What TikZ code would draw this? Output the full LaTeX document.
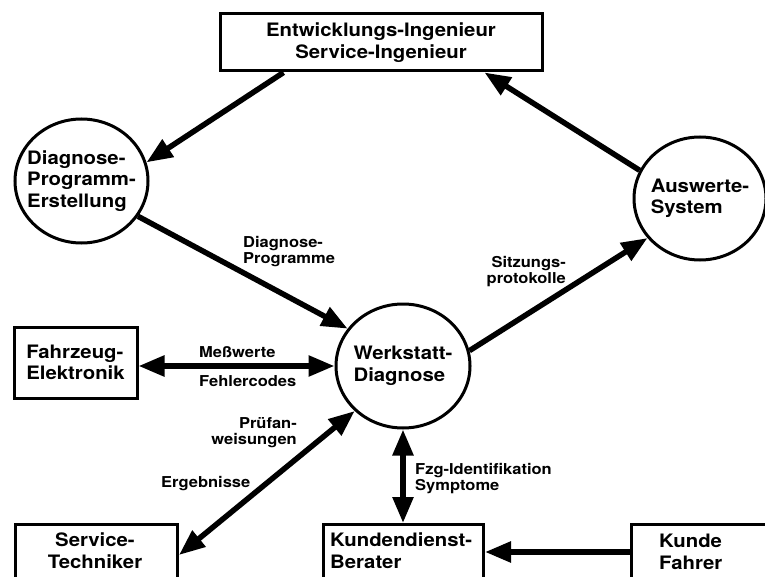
\documentclass[tikz,border=0pt]{standalone}
\usepackage{fontspec}
\setmainfont{TeX Gyre Heros}[FakeStretch=1.1]
\usetikzlibrary{arrows.meta,shapes.geometric}
\begin{document}
\begin{tikzpicture}[x=1pt,y=-1pt,
  mainfont/.style={font=\fontsize{18.5}{21.5}\selectfont\bfseries},
  box/.style={draw, line width=3pt, rectangle, inner sep=0pt, mainfont},
  circ/.style={draw, line width=3pt, ellipse, inner sep=-22pt, align=left, mainfont},
  btxt/.style={inner sep=0pt, mainfont},
  lab/.style={inner sep=0pt, font=\fontsize{15}{16}\selectfont\bfseries},
  arr/.style={line width=5.5pt, -{Triangle[length=26pt,width=20pt]}},
  darr/.style={line width=5.5pt, {Triangle[length=26pt,width=20pt]}-{Triangle[length=26pt,width=20pt]}}
]
\path[use as bounding box, clip] (0,0) rectangle (765,577);

% nodes
\node[box, align=center, minimum width=322pt, minimum height=57pt] (eng) at (381,42.5)
  {Entwicklungs-Ingenieur\\Service-Ingenieur};
\node[circ, minimum width=133pt, minimum height=124pt] (dpe) at (81.5,181)
  {Diagnose-\\Programm-\\Erstellung};
\node[circ, minimum width=132pt, minimum height=123pt] (aus) at (700,198.5)
  {Auswerte-\\System};
\node[circ, minimum width=134pt, minimum height=124pt] (wd) at (403,366)
  {Werkstatt-\\Diagnose};
\node[box, align=left, minimum width=123pt, minimum height=71pt] (fe) at (75.5,362.5)
  {Fahrzeug-\\Elektronik};

\node[box, anchor=north west, minimum width=162pt, minimum height=90pt] (st) at (14,523) {};
\node[btxt, align=center, anchor=base] (stt) at (95,568) {Service-\\Techniker};
\node[box, anchor=north west, minimum width=160pt, minimum height=90pt] (kb) at (322,523) {};
\node[btxt, align=left, anchor=base west] (kbt) at (330,568) {Kundendienst-\\Berater};
\node[box, anchor=north west, minimum width=200pt, minimum height=90pt] (kf) at (630,523) {};
\node[btxt, align=left, anchor=base west] (kft) at (659,569) {Kunde\\Fahrer};

% labels
\node[lab, align=left, anchor=base west] (l1) at (243,263) {Diagnose-\\Programme};
\node[lab, anchor=base west] (l2) at (199,357) {Meßwerte};
\node[lab, anchor=base west] (l3) at (199,386) {Fehlercodes};
\node[lab, align=right, anchor=base east] (l4) at (297,444) {Prüfan-\\weisungen};
\node[lab, anchor=base west] (l5) at (161,487) {Ergebnisse};
\node[lab, align=left, anchor=base west] (l6) at (415,490) {Fzg-Identifikation\\Symptome};
\node[lab, align=right, anchor=base east] (l7) at (566,283) {Sitzungs-\\protokolle};

% connectors
\draw[arr] ([xshift=65pt]eng.south west) -- (dpe.16);
\draw[arr] (aus.155) -- ([xshift=-59pt]eng.south east);
\draw[arr] (dpe.-32) -- (wd.146);
\draw[arr] (wd.13) -- (aus.217);
\draw[darr] (fe.east |- wd.west) -- (wd.west);
\draw[darr] ([yshift=-32pt]st.north east) -- (wd.223);
\draw[darr] (wd.south) -- (kb.north -| wd.south);
\draw[arr] ([yshift=-29pt]kf.north west) -- ([yshift=-29pt]kb.north east);
\end{tikzpicture}
\end{document}
